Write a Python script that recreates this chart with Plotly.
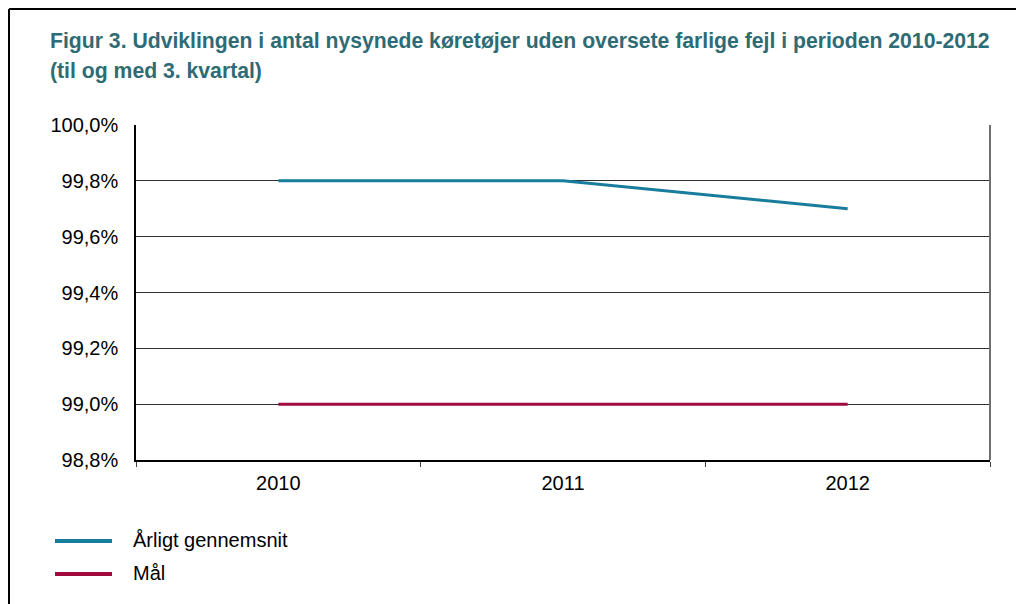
import plotly.graph_objects as go

years = ["2010", "2011", "2012"]
aarligt = [99.8, 99.8, 99.7]
maal = [99.0, 99.0, 99.0]
y_ticks = [98.8, 99.0, 99.2, 99.4, 99.6, 99.8, 100.0]
y_ticktext = ["98,8%", "99,0%", "99,2%", "99,4%", "99,6%", "99,8%", "100,0%"]
series_names = ["Årligt gennemsnit", "Mål"]
series_colors = ["#187C9C", "#A00A3C"]
title_lines = [
    "Figur 3. Udviklingen i antal nysynede køretøjer uden oversete farlige fejl i perioden 2010-2012",
    "(til og med 3. kvartal)",
]

# page offset caused by the default body margin
OFF = 8
W, H = 1024 - OFF, 604 - OFF
L, R, T, B = 136 - OFF, 990 - OFF, 125 - OFF, 460 - OFF
pw, ph = R - L, B - T


def px(x):  # page pixel -> paper
    return (x - OFF - L) / pw


def py(y):
    return (B - (y - OFF)) / ph


FONT = "Liberation Sans, Arial, sans-serif"

fig = go.Figure()
for name, vals, col in zip(series_names, [aarligt, maal], series_colors):
    fig.add_trace(go.Scatter(x=years, y=vals, mode="lines", name=name,
                             line=dict(color=col, width=3), showlegend=False))

shapes = []
# right border of plot area
shapes.append(dict(type="line", xref="paper", yref="paper", x0=1, x1=1, y0=0, y1=1,
                   line=dict(color="#707070", width=2)))
# outer frame (top and left)
shapes.append(dict(type="line", xref="paper", yref="paper", x0=px(9), x1=px(1030), y0=py(9), y1=py(9),
                   line=dict(color="black", width=2)))
shapes.append(dict(type="line", xref="paper", yref="paper", x0=px(9), x1=px(9), y0=py(9), y1=py(620),
                   line=dict(color="black", width=2)))

annotations = []
for i, t in enumerate(title_lines):
    annotations.append(dict(text="<b>" + t + "</b>", xref="paper", yref="paper",
                            x=px(48), y=py(41 + 29.5 * i), xanchor="left", yanchor="middle",
                            showarrow=False, font=dict(family=FONT, size=21.2, color="#2E6B74")))

# legend
for i, (name, col) in enumerate(zip(series_names, series_colors)):
    ly = 541 + 33 * i
    shapes.append(dict(type="line", xref="paper", yref="paper", x0=px(55), x1=px(112),
                       y0=py(ly), y1=py(ly), line=dict(color=col, width=4)))
    annotations.append(dict(text=name, xref="paper", yref="paper", x=px(131), y=py(ly - 1),
                            xanchor="left", yanchor="middle", showarrow=False,
                            font=dict(family=FONT, size=20, color="black")))

fig.update_layout(
    width=W, height=H,
    margin=dict(l=L, r=W - R, t=T, b=H - B, pad=0),
    paper_bgcolor="white", plot_bgcolor="white",
    font=dict(family=FONT, size=20, color="black"),
    shapes=shapes, annotations=annotations,
    xaxis=dict(type="category", range=[-0.5, 2.5], tickson="boundaries", ticks="outside", ticklen=5,
               tickcolor="#404040", tickwidth=1, showgrid=False,
               showline=True, linecolor="black", linewidth=2,
               ticklabelstandoff=4, fixedrange=True),
    yaxis=dict(range=[98.8, 100.0], tickmode="array", tickvals=y_ticks, ticktext=y_ticktext,
               showgrid=True, gridcolor="#303030", gridwidth=1,
               showline=True, linecolor="black", linewidth=1.5,
               ticks="", ticklabelstandoff=12, zeroline=False, fixedrange=True),
)

fig.write_html("out.html")
